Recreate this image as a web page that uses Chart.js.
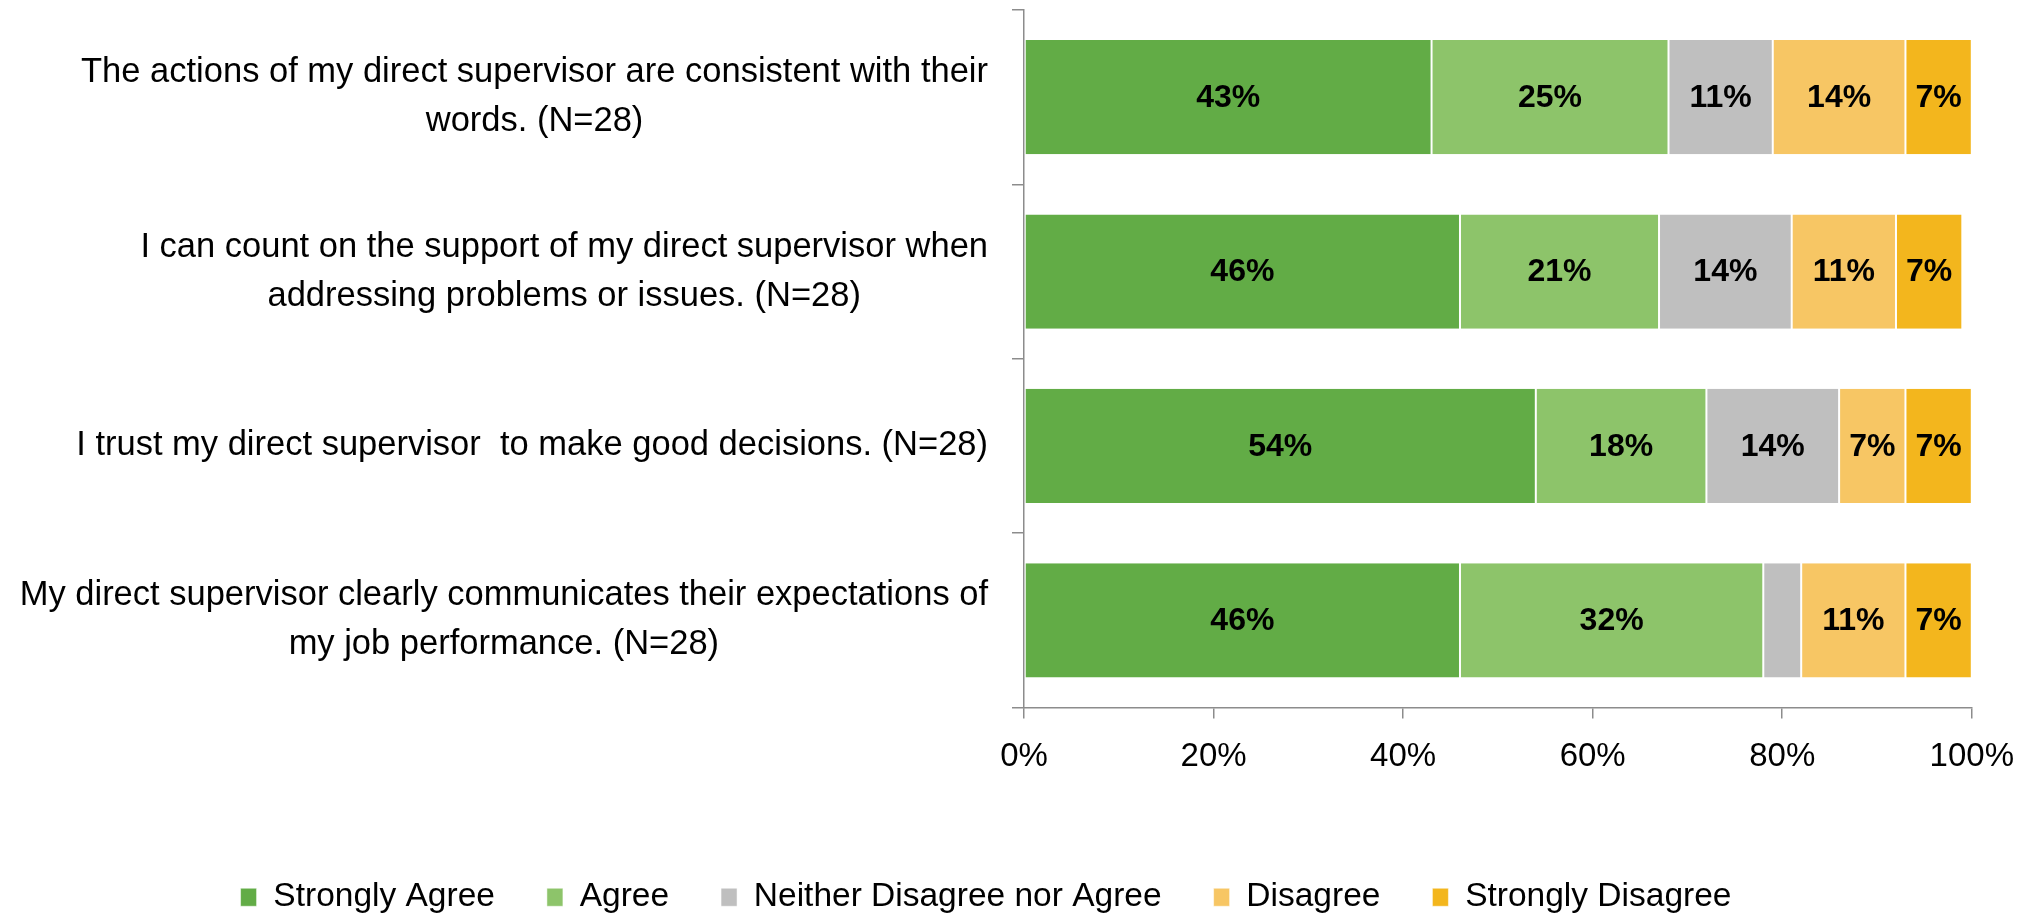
<!DOCTYPE html>
<html>
<head>
<meta charset="utf-8">
<title>Direct supervisor survey</title>
<script src="https://cdn.jsdelivr.net/npm/chart.js@4.4.1/dist/chart.umd.min.js"></script>
<style>
    html, body { margin: 0; padding: 0; background: #fff; }
    #wrap { width: 2033px; height: 913px; position: relative; }
</style>
</head>
<body>
<div id="wrap"><canvas id="myChart"></canvas></div>
<script>
const questions = [
    ["The actions of my direct supervisor are consistent with their", "words. (N=28)"],
    ["I can count on the support of my direct supervisor when", "addressing problems or issues. (N=28)"],
    ["I trust my direct supervisor  to make good decisions. (N=28)"],
    ["My direct supervisor clearly communicates their expectations of", "my job performance. (N=28)"]
];
const seriesNames = ["Strongly Agree", "Agree", "Neither Disagree nor Agree", "Disagree", "Strongly Disagree"];
const strongAgree = [43, 46, 54, 46];
const agree = [25, 21, 18, 32];
const neither = [11, 14, 14, 4];
const disagree = [14, 11, 7, 11];
const strongDisagree = [7, 7, 7, 7];
const xTicks = [0, 20, 40, 60, 80, 100];

const seriesColors = ["#62ac46", "#8dc46a", "#bfbfbf", "#f7c664", "#f3b61d"];
const FONT = "'Liberation Sans', Arial, sans-serif";
const AXIS_GRAY = "#8c8c8c";

// .......... question labels: block right aligned, lines centered ..........
const questionLabels = {
    id: "questionLabels",
    afterDraw(chart) {
        const ctx = chart.ctx;
        const yScale = chart.scales.y;
        const rightEdge = chart.chartArea.left - 36;
        const lineGap = 49;
        ctx.save();
        ctx.font = "34.5px " + FONT;
        ctx.fillStyle = "#000";
        ctx.textAlign = "center";
        ctx.textBaseline = "middle";
        chart.data.labels.forEach((lines, i) => {
            const yMid = yScale.getPixelForTick(i);
            const widest = Math.max(...lines.map(l => ctx.measureText(l).width));
            const xMid = rightEdge - widest / 2;
            const y0 = yMid - (lines.length - 1) * lineGap / 2;
            lines.forEach((l, j) => ctx.fillText(l, xMid, y0 + j * lineGap));
        });
        ctx.restore();
    }
};

// .......... percentage labels in the middle of each segment ..........
const segmentLabels = {
    id: "segmentLabels",
    afterDatasetsDraw(chart) {
        const ctx = chart.ctx;
        ctx.save();
        ctx.font = "bold 32px " + FONT;
        ctx.fillStyle = "#000";
        ctx.textAlign = "center";
        ctx.textBaseline = "middle";
        chart.data.datasets.forEach((ds, di) => {
            const meta = chart.getDatasetMeta(di);
            meta.data.forEach((bar, i) => {
                const v = ds.data[i];
                if (v < 5) return;
                ctx.fillText(v + "%", (bar.x + bar.base) / 2, bar.y + 1);
            });
        });
        ctx.restore();
    }
};

const allSeries = [strongAgree, agree, neither, disagree, strongDisagree];

new Chart("myChart", {
    type: "bar",
    data: {
        labels: questions,
        datasets: allSeries.map((vals, i) => ({
            label: seriesNames[i],
            data: vals,
            backgroundColor: seriesColors[i],
            borderColor: "#ffffff",
            borderWidth: { left: 1, right: 1, top: 0, bottom: 0 },
            borderSkipped: false,
            barPercentage: 0.655,
            categoryPercentage: 1
        }))
    },
    options: {
        indexAxis: "y",
        responsive: true,
        maintainAspectRatio: false,
        animation: false,
        layout: { padding: { top: 10, right: 61, left: 0, bottom: -11 } },
        scales: {
            x: {
                stacked: true,
                min: 0,
                max: 100,
                afterBuildTicks: (scale) => { scale.ticks = xTicks.map(v => ({ value: v })); },
                afterFit: (scale) => { scale.height = 121; },
                ticks: {
                    color: "#000",
                    font: { family: FONT, size: 33 },
                    padding: 19,
                    callback: (v) => v + "%"
                },
                grid: { drawOnChartArea: false, drawTicks: true, tickLength: 11, color: AXIS_GRAY, lineWidth: 1.5 },
                border: { color: AXIS_GRAY, width: 1.5 }
            },
            y: {
                stacked: true,
                afterFit: (scale) => { scale.width = 1024; },
                ticks: { display: false },
                grid: { drawOnChartArea: false, drawTicks: true, tickLength: 12, color: AXIS_GRAY, lineWidth: 1.5, offset: true },
                border: { color: AXIS_GRAY, width: 1.5 }
            }
        },
        plugins: {
            legend: {
                position: "bottom",
                labels: {
                    color: "#000",
                    font: { family: FONT, size: 33.5 },
                    boxWidth: 16,
                    boxHeight: 18,
                    padding: 52
                }
            },
            tooltip: { enabled: false }
        }
    },
    plugins: [questionLabels, segmentLabels]
});
</script>
</body>
</html>
